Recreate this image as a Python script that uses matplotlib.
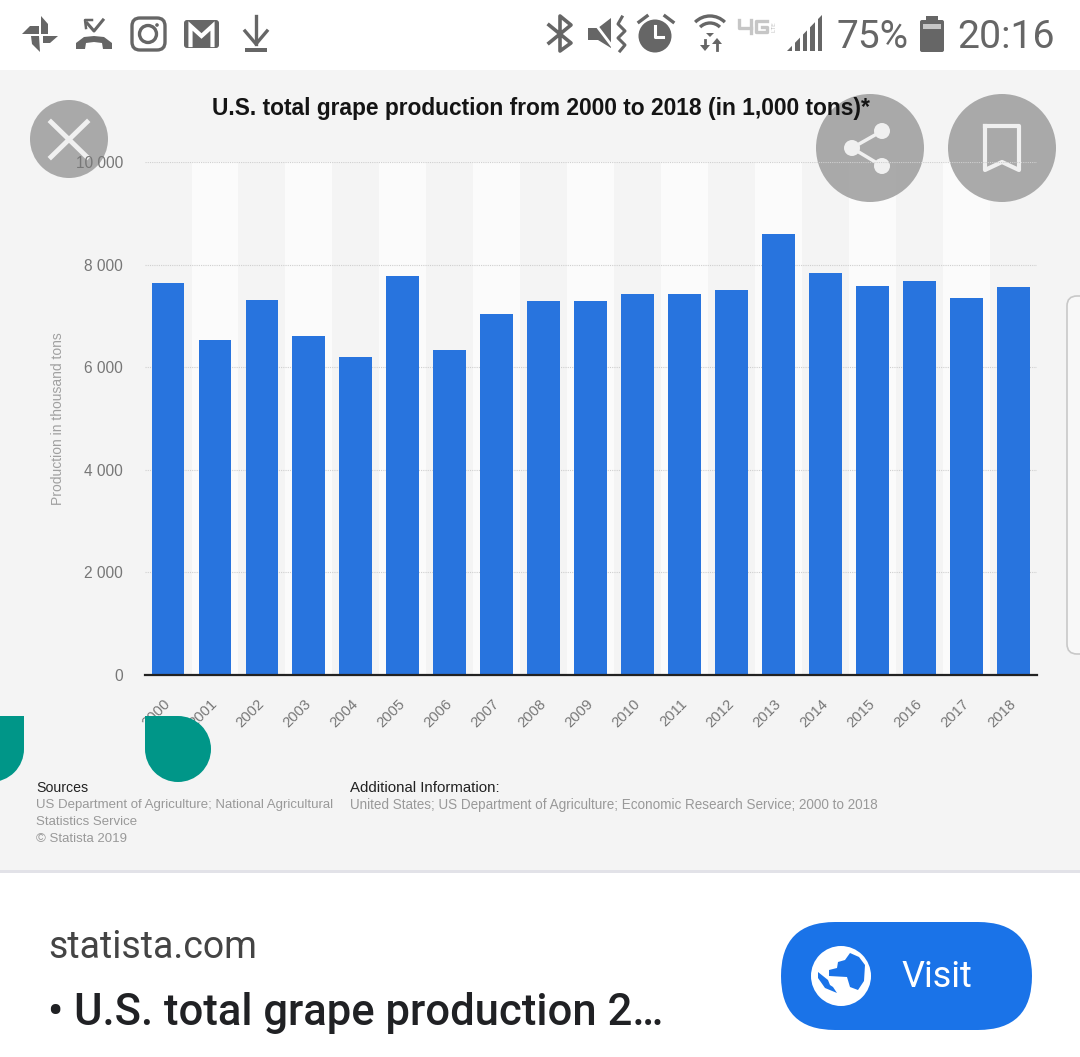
import matplotlib
matplotlib.use('Agg')
import matplotlib.pyplot as plt
from matplotlib.patches import Circle, Rectangle, FancyBboxPatch, Polygon, Arc

W, H = 1080, 1057

years = ['2000', '2001', '2002', '2003', '2004', '2005', '2006', '2007', '2008', '2009',
         '2010', '2011', '2012', '2013', '2014', '2015', '2016', '2017', '2018']
production = [7650, 6530, 7310, 6610, 6200, 7780, 6335, 7040, 7290, 7290,
              7430, 7430, 7505, 8600, 7840, 7585, 7680, 7350, 7565]
y_ticks = [0, 2000, 4000, 6000, 8000, 10000]
y_tick_labels = ['0', '2 000', '4 000', '6 000', '8 000', '10 000']

CHART_FONT = 'Liberation Sans'
UI_FONT = 'Roboto'
ICON = '#666666'
CHART_RECT = [145 / W, 1 - 675 / H, (1037 - 145) / W, (675 - 162) / H]


def pixel_axes(fig, zorder):
    # full figure axes that works in screenshot pixels
    ax = fig.add_axes([0, 0, 1, 1], zorder=zorder)
    ax.set_xlim(0, W)
    ax.set_ylim(H, 0)
    ax.axis('off')
    ax.patch.set_alpha(0)
    return ax


def draw_background(ax):
    ax.add_patch(Rectangle((0, 70), W, 802, color='#f4f4f4', lw=0))
    ax.add_patch(Rectangle((0, 870), W, 3, color='#e2e2e8', lw=0))
    # edge of the card behind the chart
    ax.add_patch(FancyBboxPatch((1067, 296), 40, 358, boxstyle='round,pad=0,rounding_size=10',
                                fc='#f8f8f8', ec='#c8c8c8', lw=1.2))


def draw_stripes(fig):
    ax = fig.add_axes(CHART_RECT, zorder=2)
    ax.axis('off')
    for i in range(1, len(years), 2):
        ax.axvspan(i - 0.5, i + 0.5, color='#fbfbfb', lw=0)
    ax.set_xlim(-0.49, 18.5)
    ax.set_ylim(0, 10000)


def draw_chart(fig):
    ax = fig.add_axes(CHART_RECT, zorder=4)
    ax.patch.set_alpha(0)
    x = list(range(len(years)))
    ax.bar(x, production, width=0.7, color='#2874de', zorder=3)
    ax.set_xlim(-0.49, 18.5)
    ax.set_ylim(0, 10000)
    ax.set_yticks(y_ticks)
    ax.set_yticklabels(y_tick_labels, fontsize=11.2, color='#777777', family=CHART_FONT)
    ax.set_xticks(x)
    ax.set_xticklabels(years, rotation=45, ha='right', va='center', rotation_mode='anchor',
                       fontsize=10.6, color='#777777', family=CHART_FONT)
    ax.tick_params(axis='both', length=0)
    ax.tick_params(axis='y', pad=16)
    ax.tick_params(axis='x', pad=19)
    ax.grid(axis='y', color='#cfcfcf', lw=0.8, ls=(0, (1, 1)), zorder=1)
    for side in ['top', 'right', 'left']:
        ax.spines[side].set_visible(False)
    ax.spines['bottom'].set_color('#222222')
    ax.spines['bottom'].set_linewidth(1.6)
    ax.spines['bottom'].set_zorder(4)
    ax.set_ylabel('Production in thousand tons', fontsize=10, color='#a0a0a0', family=CHART_FONT)
    ax.yaxis.set_label_coords((65 - 145) / (1037 - 145), (675 - 419) / (675 - 162))


def draw_chart_text(ax):
    ax.text(212, 108, 'U.S. total grape production from 2000 to 2018 (in 1,000 tons)*',
            fontsize=16.4, fontweight='bold', color='#141414', family=CHART_FONT, va='center')
    ax.text(36, 788, 'Sources', fontsize=10.2, color='#222222', family=CHART_FONT, va='center')
    ax.text(36, 805, 'US Department of Agriculture; National Agricultural',
            fontsize=9.5, color='#999999', family=CHART_FONT, va='center')
    ax.text(36, 822, 'Statistics Service', fontsize=9.5, color='#999999', family=CHART_FONT, va='center')
    ax.text(36, 839, '© Statista 2019', fontsize=9.5, color='#999999', family=CHART_FONT, va='center')
    ax.text(350, 788, 'Additional Information:', fontsize=10.8, color='#222222',
            family=CHART_FONT, va='center')
    ax.text(350, 805, 'United States; US Department of Agriculture; Economic Research Service; 2000 to 2018',
            fontsize=9.73, color='#999999', family=CHART_FONT, va='center')


def draw_left_icons(ax):
    # pinwheel
    ax.add_patch(Polygon([(22, 34), (30, 26), (39, 26), (39, 34)], color=ICON, lw=0))
    ax.add_patch(Polygon([(41, 16), (48, 24), (48, 34), (41, 34)], color=ICON, lw=0))
    ax.add_patch(Polygon([(43, 36), (58, 36), (50, 43), (43, 43)], color=ICON, lw=0))
    ax.add_patch(Polygon([(31, 36), (39, 36), (40, 52), (32, 44)], color=ICON, lw=0))
    # missed call
    ax.add_patch(Polygon([(76, 49), (76, 43), (84, 37), (94, 36), (104, 37), (112, 43), (112, 49),
                          (103, 49), (102, 43), (94, 42), (86, 43), (85, 49)], color=ICON, lw=0))
    ax.plot([87, 94, 103], [23, 31, 20], color=ICON, lw=2.2)
    ax.plot([92, 85, 86], [20, 20, 28], color=ICON, lw=1.8)
    # instagram
    ax.add_patch(FancyBboxPatch((132, 18), 33, 32, boxstyle='round,pad=0,rounding_size=8',
                                fc='none', ec=ICON, lw=2.4))
    ax.add_patch(Circle((148, 34), 8.5, fc='none', ec=ICON, lw=2.4))
    ax.add_patch(Circle((157, 25), 1.8, color=ICON, lw=0))
    # gmail
    ax.add_patch(FancyBboxPatch((184, 20), 35, 28, boxstyle='round,pad=0,rounding_size=3',
                                fc=ICON, ec='none'))
    ax.plot([190.5, 190.5, 201.5, 212.5, 212.5], [45, 26, 36, 26, 45], color='white', lw=3,
            solid_joinstyle='miter')
    # download
    ax.plot([245, 256, 267], [31, 44, 31], color=ICON, lw=2.4)
    ax.plot([256, 256], [16, 44], color=ICON, lw=2.4)
    ax.add_patch(Rectangle((245, 48), 22, 3.5, color=ICON, lw=0))


def draw_right_icons(ax):
    # bluetooth
    ax.plot([549, 571, 560, 560, 571, 549], [25, 43, 51, 16, 25, 43], color=ICON, lw=2.6)
    # muted speaker
    ax.add_patch(Polygon([(588, 28), (598, 28), (611, 18), (611, 48), (598, 40), (588, 40)],
                         color=ICON, lw=0))
    ax.plot([590, 615], [17, 50], color='white', lw=2)
    ax.plot([622, 618, 625, 618, 625, 620], [17, 24, 31, 38, 45, 51], color=ICON, lw=2.2)
    # alarm
    ax.add_patch(Circle((655, 36), 16.5, color=ICON, lw=0))
    ax.plot([655, 655, 663], [26, 37, 37], color='white', lw=2.2)
    ax.plot([639, 647], [22, 16], color=ICON, lw=2.4)
    ax.plot([665, 673], [16, 22], color=ICON, lw=2.4)
    # wifi with data arrows
    for r in [21, 14]:
        ax.add_patch(Arc((710, 37), r * 2, r * 2, theta1=225, theta2=315, color=ICON, lw=2.4))
    ax.add_patch(Polygon([(706, 33), (714, 33), (710, 37)], color=ICON, lw=0))
    ax.plot([705, 705], [40, 47], color=ICON, lw=2)
    ax.add_patch(Polygon([(700, 45), (710, 45), (705, 51)], color=ICON, lw=0))
    ax.plot([717, 717], [42, 50], color=ICON, lw=2)
    ax.add_patch(Polygon([(712, 44), (722, 44), (717, 38)], color=ICON, lw=0))
    # 4G LTE
    ax.plot([739, 739, 751], [20, 28, 28], color='#c6c6c6', lw=2.4)
    ax.plot([751, 751], [20, 33], color='#c6c6c6', lw=2.4)
    ax.plot([767, 756, 756, 767, 767, 762], [21, 21, 32, 32, 27, 27], color='#c6c6c6', lw=2.4)
    ax.text(774, 27, 'LTE', fontsize=4.6, rotation=90, color='#c6c6c6', family=UI_FONT,
            va='center', ha='center')
    # signal bars, the top edge follows one slope
    for x0, x1 in [(787, 792), (795, 800), (803, 807), (810, 815), (818, 822)]:
        ax.add_patch(Polygon([(x0, 51), (x0, 51 - (x0 - 787) * 1.03), (x1, 51 - (x1 - 787) * 1.03),
                              (x1, 51)], color=ICON, lw=0))
    ax.text(836, 37, '75%', fontsize=28, color=ICON, family=UI_FONT, va='center')
    ax.add_patch(FancyBboxPatch((920, 20), 24, 32, boxstyle='round,pad=0,rounding_size=2',
                                fc=ICON, ec='none'))
    ax.add_patch(Rectangle((926, 16), 12, 5, color=ICON, lw=0))
    ax.add_patch(Rectangle((923, 24), 18, 5, color='#c6c6c6', lw=0))
    ax.text(957, 37, '20:16', fontsize=28.3, color=ICON, family=UI_FONT, va='center')


def draw_buttons(ax):
    grey = '#a3a3a3'
    light = '#f0f0f0'
    ax.add_patch(Circle((69, 139), 39, color=grey, alpha=0.92, lw=0))
    ax.plot([51, 87], [122, 157], color=light, lw=3.5)
    ax.plot([87, 51], [122, 157], color=light, lw=3.5)
    ax.add_patch(Circle((870, 148), 54, color=grey, alpha=0.92, lw=0))
    ax.add_patch(Circle((1002, 148), 54, color=grey, alpha=0.92, lw=0))
    ax.plot([882, 852, 882], [131, 148, 166], color=light, lw=2.5)
    for cx, cy, r in [(882, 131, 8), (852, 148, 8), (882, 166, 8)]:
        ax.add_patch(Circle((cx, cy), r, color=light, lw=0))
    ax.plot([985, 985, 1002, 1019, 1019, 985], [126, 170, 162, 170, 126, 126],
            color=light, lw=3, solid_joinstyle='round')


def draw_teal(ax):
    # these sit over the tick labels
    teal = '#009688'
    ax.add_patch(Circle((-9, 749), 33, color=teal, lw=0))
    ax.add_patch(Rectangle((-42, 716), 66, 33, color=teal, lw=0))
    ax.add_patch(Circle((178, 749), 33, color=teal, lw=0))
    ax.add_patch(Rectangle((145, 716), 33, 33, color=teal, lw=0))


def draw_footer(ax):
    blue = '#1a73e8'
    ax.text(48, 948, 'statista.com', fontsize=27, color='#444444', family=UI_FONT, va='center')
    ax.text(48, 1013, '• U.S. total grape production 2…', fontsize=31.4, fontweight='medium',
            color='#202124', family=UI_FONT, va='center')
    ax.add_patch(FancyBboxPatch((781, 922), 251, 108, boxstyle='round,pad=0,rounding_size=54',
                                fc=blue, ec='none'))
    ax.add_patch(Circle((841, 976), 30, color='white', lw=0))
    ax.add_patch(Polygon([(850, 953), (845, 960), (838, 962), (837, 968), (829, 970), (829, 976),
                          (847, 977), (850, 987), (858, 990), (864, 981), (865, 965), (859, 957)],
                         color=blue, lw=0))
    ax.add_patch(Polygon([(818, 972), (818, 978), (825, 988), (837, 993), (833, 987), (830, 985),
                          (828, 980)], color=blue, lw=0))
    ax.text(901, 977, 'Visit', fontsize=26, color='white', family=UI_FONT, va='center')


def main():
    fig = plt.figure(figsize=(W / 100, H / 100), dpi=100, facecolor='white')
    back = pixel_axes(fig, 1)
    draw_background(back)
    draw_stripes(fig)
    # the round buttons lie under the chart text and grid
    draw_buttons(pixel_axes(fig, 3))
    draw_chart(fig)
    front = pixel_axes(fig, 5)
    draw_chart_text(front)
    draw_left_icons(front)
    draw_right_icons(front)
    draw_teal(front)
    draw_footer(front)
    fig.savefig('out.png', dpi=100)
    plt.close(fig)


if __name__ == '__main__':
    main()
